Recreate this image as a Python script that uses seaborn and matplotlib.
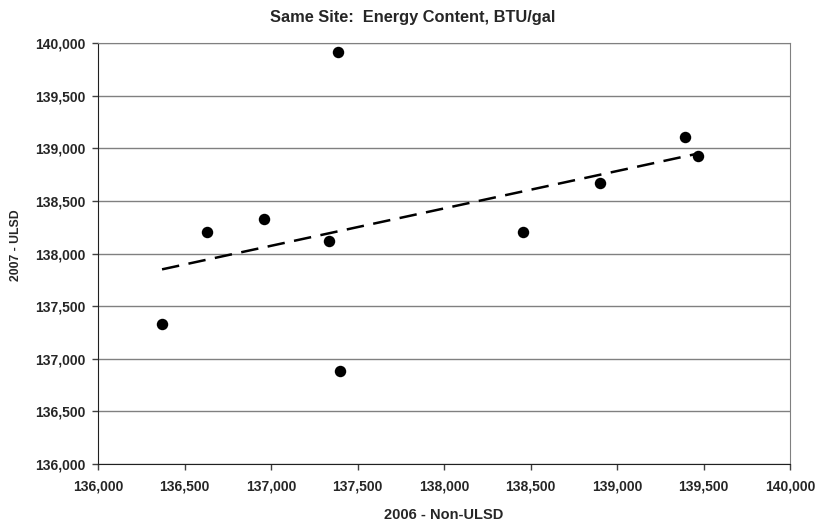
import numpy as np
import pandas as pd
import matplotlib
matplotlib.use('Agg')
import matplotlib.pyplot as plt
import seaborn as sns
from matplotlib.ticker import FuncFormatter

# valores
non_ulsd_2006 = [136370, 136632, 136958, 137335, 137387, 137397, 138455, 138903, 139393, 139470]
ulsd_2007 = [137327, 138201, 138325, 138122, 139912, 136886, 138207, 138667, 139107, 138929]

df = pd.DataFrame({'x': non_ulsd_2006, 'y': ulsd_2007})

sns.set_style('white')
plt.rcParams['font.family'] = ['Liberation Sans', 'DejaVu Sans']
plt.rcParams['font.weight'] = 'bold'

fig = plt.figure(figsize=(8.17, 5.26), dpi=100)
ax = fig.add_axes([0.12, 0.118, 0.847, 0.8])

sns.regplot(x='x', y='y', data=df, ax=ax, ci=None,
            scatter_kws={'s': 68, 'color': 'black', 'alpha': 1, 'zorder': 3, 'linewidths': 0},
            line_kws={'color': 'black', 'lw': 1.8, 'dashes': (7, 3.8), 'zorder': 2})

ax.set_xlim(136000, 140000)
ax.set_ylim(136000, 140000)
ax.set_xticks(np.arange(136000, 140001, 500))
ax.set_yticks(np.arange(136000, 140001, 500))
fmt = FuncFormatter(lambda v, p: f'{int(v):,}')
ax.xaxis.set_major_formatter(fmt)
ax.yaxis.set_major_formatter(fmt)
ax.yaxis.grid(True, color='#808080', lw=1)
ax.xaxis.grid(False)
ax.set_axisbelow(True)

for s in ['top', 'right']:
    ax.spines[s].set_color('#808080')
for s in ['left', 'bottom']:
    ax.spines[s].set_color('#202020')

ax.tick_params(axis='both', direction='out', length=4, width=1, color='#404040',
               labelsize=10, bottom=True, left=True)
ax.tick_params(axis='x', pad=7)
ax.tick_params(axis='y', pad=5)
for lab in ax.get_xticklabels() + ax.get_yticklabels():
    lab.set_fontweight('bold')

ax.set_xlabel('2006 - Non-ULSD', fontsize=10.5, fontweight='bold', labelpad=11)
ax.set_ylabel('2007 - ULSD', fontsize=8.8, fontweight='bold')
ax.yaxis.set_label_coords(-0.11, 0.52)
fig.text(0.505, 0.967, 'Same Site:  Energy Content, BTU/gal', fontsize=11.8,
         fontweight='bold', ha='center', va='center')

plt.savefig('out.png', dpi=100)
